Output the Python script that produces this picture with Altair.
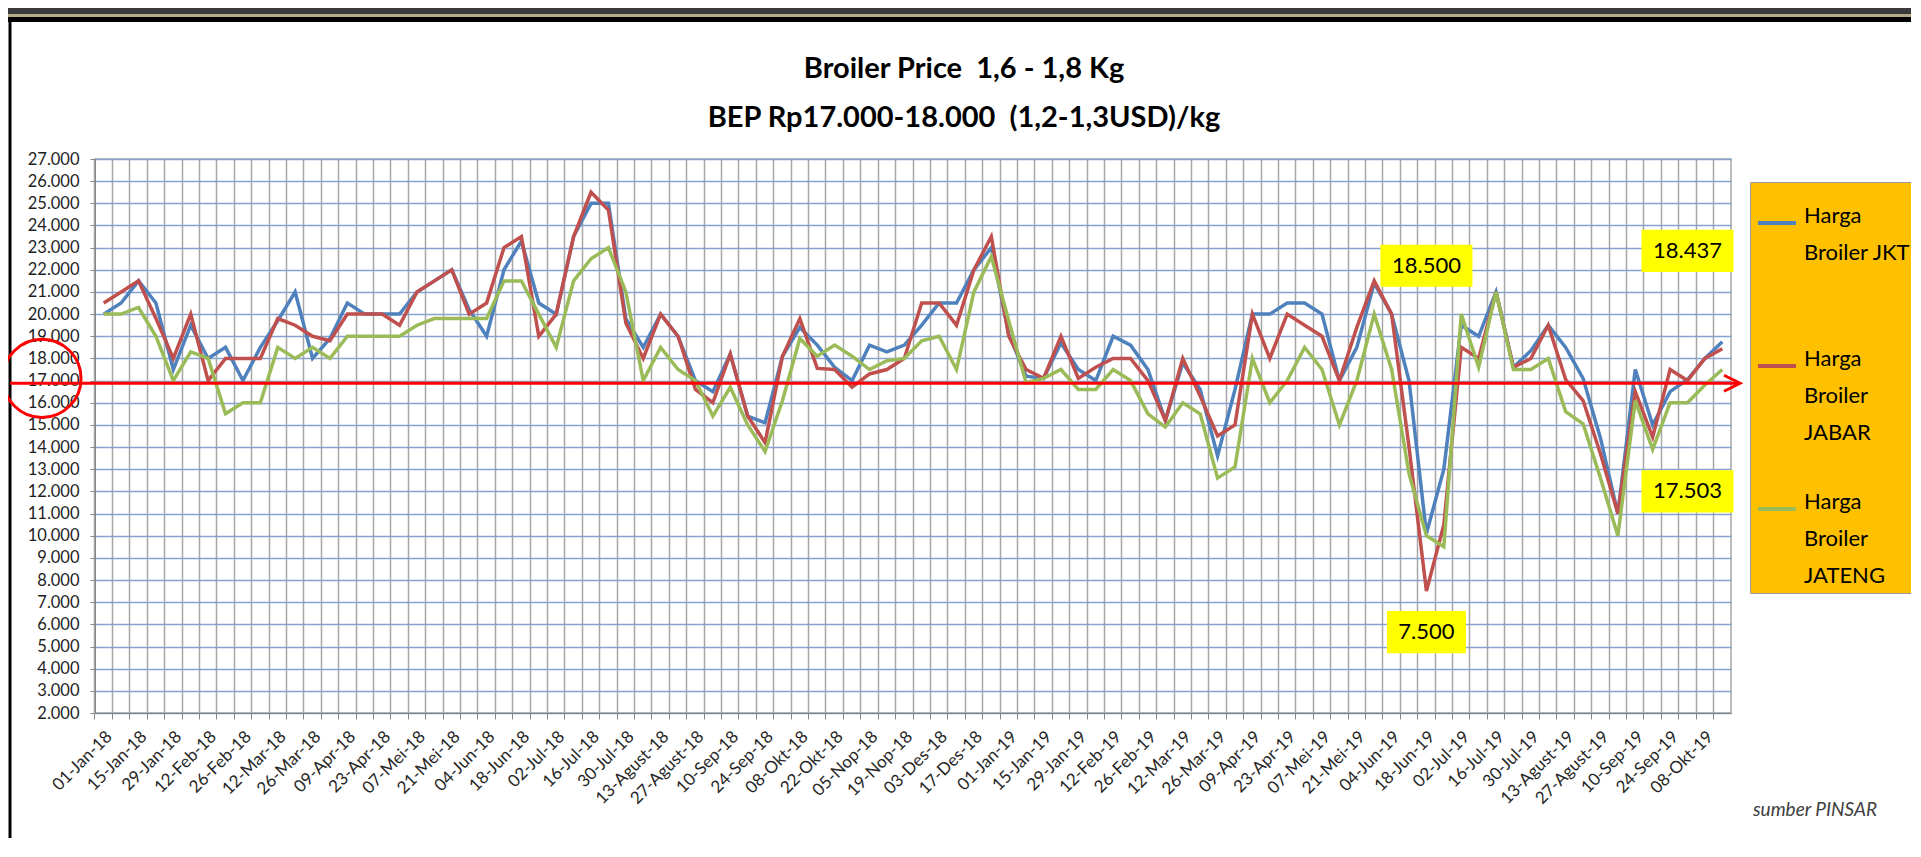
import json
import altair as alt
import pandas as pd

# ---------------- data ----------------
weeks = [
    "01-Jan-18", "08-Jan-18", "15-Jan-18", "22-Jan-18", "29-Jan-18", "05-Feb-18", "12-Feb-18", "19-Feb-18",
    "26-Feb-18", "05-Mar-18", "12-Mar-18", "19-Mar-18", "26-Mar-18", "02-Apr-18", "09-Apr-18", "16-Apr-18",
    "23-Apr-18", "30-Apr-18", "07-Mei-18", "14-Mei-18", "21-Mei-18", "28-Mei-18", "04-Jun-18", "11-Jun-18",
    "18-Jun-18", "25-Jun-18", "02-Jul-18", "09-Jul-18", "16-Jul-18", "23-Jul-18", "30-Jul-18", "06-Agust-18",
    "13-Agust-18", "20-Agust-18", "27-Agust-18", "03-Sep-18", "10-Sep-18", "17-Sep-18", "24-Sep-18", "01-Okt-18",
    "08-Okt-18", "15-Okt-18", "22-Okt-18", "29-Okt-18", "05-Nop-18", "12-Nop-18", "19-Nop-18", "26-Nop-18",
    "03-Des-18", "10-Des-18", "17-Des-18", "24-Des-18",
    "01-Jan-19", "08-Jan-19", "15-Jan-19", "22-Jan-19", "29-Jan-19", "05-Feb-19", "12-Feb-19", "19-Feb-19",
    "26-Feb-19", "05-Mar-19", "12-Mar-19", "19-Mar-19", "26-Mar-19", "02-Apr-19", "09-Apr-19", "16-Apr-19",
    "23-Apr-19", "30-Apr-19", "07-Mei-19", "14-Mei-19", "21-Mei-19", "28-Mei-19", "04-Jun-19", "11-Jun-19",
    "18-Jun-19", "25-Jun-19", "02-Jul-19", "09-Jul-19", "16-Jul-19", "23-Jul-19", "30-Jul-19", "06-Agust-19",
    "13-Agust-19", "20-Agust-19", "27-Agust-19", "03-Sep-19", "10-Sep-19", "17-Sep-19", "24-Sep-19", "01-Okt-19",
    "08-Okt-19", "15-Okt-19",
]

jkt = [
    20000, 20500, 21500, 20500, 17500, 19500, 18000, 18500, 17000, 18500,
    19700, 21000, 18000, 18900, 20500, 20000, 20000, 20000, 21000, 21500,
    22000, 20200, 19000, 22000, 23300, 20500, 20000, 23500, 25000, 25000,
    19800, 18500, 20000, 19000, 17000, 16500, 18200, 15400, 15100, 18100,
    19400, 18600, 17600, 17000, 18600, 18300, 18600, 19500, 20500, 20500,
    22000, 23000, 19100, 17200, 17100, 18700, 17500, 17000, 19000, 18600,
    17500, 15200, 17800, 16600, 13600, 16600, 20000, 20000, 20500, 20500,
    20000, 17000, 18500, 21400, 20000, 17000, 10100, 13000, 19500, 19000,
    21000, 17600, 18350, 19500, 18500, 17100, 14400, 11000, 17500, 15000,
    16500, 17050, 18000, 18750,
]

jabar = [
    20500, 21000, 21500, 19800, 18000, 20000, 17000, 18000, 18000, 18000,
    19800, 19500, 19000, 18800, 20000, 20000, 20000, 19500, 21000, 21500,
    22000, 20000, 20500, 23000, 23500, 19000, 20000, 23500, 25500, 24700,
    19600, 18000, 20000, 19000, 16600, 16000, 18200, 15400, 14200, 18100,
    19800, 17550, 17500, 16700, 17300, 17500, 18000, 20500, 20500, 19500,
    22000, 23500, 19000, 17500, 17100, 19000, 17100, 17600, 18000, 18000,
    17000, 15200, 18000, 16300, 14500, 15000, 20000, 18000, 20000, 19500,
    19000, 17000, 19400, 21500, 20000, 14000, 7500, 10500, 18500, 18000,
    21000, 17600, 18000, 19500, 17050, 16100, 13700, 11000, 16500, 14450,
    17500, 17000, 18000, 18437,
]

jateng = [
    20000, 20000, 20300, 19000, 17000, 18300, 18000, 15500, 16000, 16000,
    18500, 18000, 18500, 18000, 19000, 19000, 19000, 19000, 19500, 19800,
    19800, 19800, 19800, 21500, 21500, 20000, 18500, 21500, 22500, 23000,
    21000, 17000, 18500, 17500, 17000, 15400, 16700, 15000, 13800, 16100,
    18900, 18100, 18600, 18100, 17500, 17900, 18000, 18800, 19000, 17500,
    21000, 22600, 19700, 16900, 17100, 17500, 16600, 16600, 17500, 17000,
    15500, 14900, 16000, 15500, 12600, 13100, 18000, 16000, 17000, 18500,
    17500, 15000, 17000, 20000, 17500, 12800, 10000, 9500, 20000, 17600,
    21000, 17500, 17500, 18000, 15600, 15050, 12600, 10000, 16100, 13900,
    16000, 16000, 16800, 17503,
]

series_names = ["Harga Broiler JKT", "Harga Broiler JABAR", "Harga Broiler JATENG"]
legend_lines = [["Harga", "Broiler JKT", ""], ["Harga", "Broiler", "JABAR"], ["Harga", "Broiler", "JATENG"]]
series_colors = ["#4F81BD", "#C0504D", "#9BBB59"]

y_ticks = list(range(2000, 27001, 1000))
bep_value = 16880

ann_text = ["18.500", "7.500", "18.437", "17.503"]
ann_week = ["18-Jun-19", "18-Jun-19", "01-Okt-19", "01-Okt-19"]
ann_value = [22180, 5650, 22855, 12000]

title_lines = ["Broiler Price  1,6 - 1,8 Kg", "BEP Rp17.000-18.000  (1,2-1,3USD)/kg"]
source_text = "sumber PINSAR"

# ---------------- tables ----------------
rows = []
for name, vals in zip(series_names, [jkt, jabar, jateng]):
    for i, (w, v) in enumerate(zip(weeks, vals)):
        rows.append({"week": w, "i": i, "series": name, "price": v})
df = pd.DataFrame(rows)
ann_df = pd.DataFrame({"label": ann_text, "week": ann_week, "value": ann_value})
one = alt.InlineData(values=[{}])

# keep the double spaces visible in SVG
title_render = [t.replace("  ", " \u00a0") for t in title_lines]

# ---------------- scales / axes ----------------
FONT = "Lato"
x_scale = alt.Scale(type="band", domain=weeks, paddingInner=0, paddingOuter=0)
y_scale = alt.Scale(domain=[2000, 27000], nice=False, zero=False)

n_last = len(weeks) - 1
label_axis = alt.Axis(
    orient="bottom", labelAngle=-45, labelFont=FONT, labelFontSize=17,
    labelColor="#262626", labelPadding=15, ticks=False, domain=False, grid=False, title=None,
    labelOverlap=False,
    labelExpr=f"round(datum.index * {n_last}) % 2 == 0 ? datum.label : ''",
)
grid_axis = alt.Axis(
    orient="bottom", bandPosition=0, grid=True, gridColor="#A6A6A6", gridWidth=1.5, labels=False,
    ticks=True, tickSize=6, tickColor="#868686", domain=True, domainColor="#868686", title=None,
)
y_axis = alt.Axis(
    orient="left", values=y_ticks, labelExpr="replace(format(datum.value, ','), ',', '.')",
    labelFont=FONT, labelFontSize=16.5, labelColor="#1E1E1E", labelPadding=11,
    grid=True, gridColor="#86A3D0", gridWidth=1.5, tickSize=5, tickColor="#868686",
    domain=True, domainColor="#868686", title=None,
)

parts = []
for name, lines in zip(series_names, legend_lines):
    parts.append(f"datum.label == {json.dumps(name)} ? {json.dumps(lines)} : ")
legend_expr = "".join(parts) + "datum.label"

# ---------------- layers ----------------
top_dark = alt.Chart(one).mark_rect(color="#3A3A3A").encode(
    x=alt.value(-87), x2=alt.value(1816), y=alt.value(-151), y2=alt.value(-145))
top_tan = alt.Chart(one).mark_rect(color="#B3A888").encode(
    x=alt.value(-87), x2=alt.value(1816), y=alt.value(-145), y2=alt.value(-142))
top_black = alt.Chart(one).mark_rect(color="#000000").encode(
    x=alt.value(-87), x2=alt.value(1816), y=alt.value(-142), y2=alt.value(-137))
left_border = alt.Chart(one).mark_rule(color="#000000", strokeWidth=3).encode(
    x=alt.value(-85), y=alt.value(-137), y2=alt.value(679))

title = alt.Chart(one).mark_text(
    font=FONT, fontSize=29, fontWeight="bold", color="#000000", align="center", baseline="middle",
    lineHeight=49,
).encode(x=alt.value(869), y=alt.value(-90), text=alt.value(title_render))

lines = alt.Chart(df).mark_line(strokeWidth=3.5).encode(
    x=alt.X("week:N", scale=x_scale, axis=label_axis, bandPosition=0.5),
    y=alt.Y("price:Q", scale=y_scale, axis=y_axis),
    color=alt.Color(
        "series:N",
        scale=alt.Scale(domain=series_names, range=series_colors),
        legend=alt.Legend(
            orient="none", legendX=1655, legendY=23, title=" ", titleFontSize=10, titlePadding=4,
            fillColor="#FFC000", strokeColor="#9A9A9A", padding=6,
            symbolType="stroke", symbolSize=1444, symbolStrokeWidth=4,
            labelFont=FONT, labelFontSize=22, labelColor="#000000", labelBaseline="alphabetic",
            labelOffset=6, labelLimit=220, rowPadding=44, labelExpr=legend_expr,
        ),
    ),
    order=alt.Order("i:Q"),
)

boxes = alt.Chart(ann_df).transform_calculate(
    lo="datum.value - 950", hi="datum.value + 950", w="length(datum.label) * 13 + 14"
).mark_bar(color="#FFFF00").encode(
    x=alt.X("week:N", scale=x_scale, axis=grid_axis),
    y=alt.Y("lo:Q", scale=y_scale, axis=y_axis),
    y2="hi:Q",
    size=alt.Size("w:Q", scale=None, legend=None),
)

bep = alt.Chart(one).mark_rule(color="#FF0000", strokeWidth=3).encode(
    y=alt.YDatum(bep_value, scale=y_scale, axis=y_axis), x=alt.value(-85), x2=alt.value(1643))
arrow = alt.Chart(one).mark_point(
    shape="M-1,-1L1,0L-1,1", filled=False, color="#FF0000", strokeWidth=3, size=256, opacity=1
).encode(y=alt.YDatum(bep_value, scale=y_scale, axis=y_axis), x=alt.value(1637))
circle = alt.Chart(one).mark_point(
    shape="circle", filled=False, color="#FF0000", strokeWidth=3, size=6100, opacity=1
).encode(y=alt.YDatum(17100, scale=y_scale, axis=y_axis), x=alt.value(-53))

ann_text_layer = alt.Chart(ann_df).mark_text(
    font=FONT, fontSize=22, color="#000000", align="center", baseline="middle"
).encode(
    x=alt.X("week:N", scale=x_scale, axis=None, bandPosition=0.5),
    y=alt.Y("value:Q", scale=y_scale, axis=y_axis),
    text="label:N",
)

source = alt.Chart(one).mark_text(
    font=FONT, fontSize=19, fontStyle="italic", color="#404040", align="left", baseline="middle"
).encode(x=alt.value(1658), y=alt.value(651), text=alt.value(source_text))

chart = alt.layer(
    top_dark, top_tan, top_black, left_border, title, lines, boxes, bep, arrow, circle, ann_text_layer, source
).resolve_axis(x="independent").properties(
    width=1636,
    height=554,
    autosize=alt.AutoSizeParams(type="none"),
    padding={"left": 87, "top": 151, "right": 180, "bottom": 125},
    background="white",
).configure(
    style={"guide-label": {"lineHeight": 37}}
).configure_view(stroke="#A6A6A6", strokeWidth=1.5)

chart.save("out.html", embed_options={"renderer": "svg", "actions": False})
